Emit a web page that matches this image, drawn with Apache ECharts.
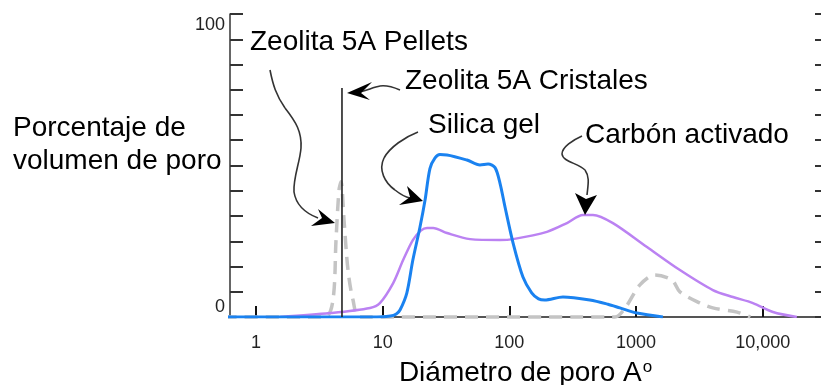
<!DOCTYPE html>
<html>
<head>
<meta charset="utf-8">
<script src="https://cdn.jsdelivr.net/npm/echarts@6.0.0/dist/echarts.min.js"></script>
<style>
  html, body { margin: 0; padding: 0; background: #fff; }
  #chart { width: 821px; height: 385px; }
</style>
</head>
<body>
<div id="chart"></div>
<script>
// pore diameter (Angstrom) vs % pore volume
const xTicks = [1, 10, 100, 1000, 10000];
const xTickLabels = ["1", "10", "100", "1000", "10,000"];

const silicaGel = [
  [0.6, 0], [9, 0], [11.5, 0.3], [12.8, 1], [13.7, 2.3], [15.5, 7.9], [17.3, 18.8],
  [19.7, 29.7], [21.6, 38.6], [23.6, 49], [25.9, 52.5], [28.3, 53.6], [32.2, 53.5],
  [46.3, 51.8], [58.6, 50.2], [67.9, 50.5], [77.1, 49.3], [84.3, 44.2], [92.4, 36.3],
  [107, 24.4], [128, 13.2], [150, 8], [170, 6], [190, 5.6], [265, 6.6], [432, 5.6],
  [600, 4.2], [746, 3.0], [1016, 1.3], [1630, 0]
];

const carbonActivado = [
  [1.55, 0], [3.84, 1.3], [7.94, 3.0], [9.5, 4.6], [12.1, 11.2], [14.5, 18.8],
  [17.3, 25.4], [20, 28.5], [22.4, 29.4], [25, 29.4], [32.2, 27.7], [48.9, 25.7],
  [84.3, 25.4], [107, 25.7], [198, 28.1], [285, 31.0], [381, 33.7], [457, 33.7],
  [657, 31.0], [1220, 23.1], [2220, 15.5], [4040, 8.9], [5820, 6.6], [8380, 4.6],
  [12050, 1.65], [18600, 0]
];

const zeolitaPellets = [
  [0.38, 0], [3.5, 0], [4.05, 5.6], [4.28, 25.4], [4.52, 41.9], [4.69, 44.6],
  [4.95, 32.0], [5.32, 15.5], [5.83, 5.6], [6.62, 0], [681, 0], [830, 3.3],
  [1073, 10.6], [1413, 13.9], [1923, 12.2], [2220, 8.3], [3200, 4.6], [4040, 3.0],
  [6270, 1.6], [8000, 0]
];

const zeolitaCristales = [[4.77, 0], [4.77, 75.6]];

const FONT = "'Liberation Sans', Arial, sans-serif";
const chart = echarts.init(document.getElementById("chart"));

function arrowHead(points) {
  return { type: "polygon", shape: { points: points }, style: { fill: "#000" }, z: 100 };
}
// a curved arrow shaft: start point followed by [c1x,c1y,c2x,c2y,x,y] segments
function shaft(start, segs) {
  let x = start[0], y = start[1];
  return segs.map(s => {
    const el = {
      type: "bezierCurve", z: 100,
      shape: { x1: x, y1: y, cpx1: s[0], cpy1: s[1], cpx2: s[2], cpy2: s[3], x2: s[4], y2: s[5] },
      style: { stroke: "#333", lineWidth: 1.6, fill: null }
    };
    x = s[4]; y = s[5];
    return el;
  });
}
function label(text, x, y) {
  return {
    type: "text", x: x, y: y, z: 100,
    style: { text: text, font: "28px " + FONT, fill: "#000", verticalAlign: "middle" }
  };
}

const option = {
  animation: false,
  grid: { left: 230, right: 0, top: 14, bottom: 68, outerBoundsMode: "none", containLabel: false },
  xAxis: [
    {
      type: "log",
      min: 0.623,
      max: 28860,
      axisLine: { lineStyle: { color: "#333", width: 1.5 } },
      axisTick: { inside: true, length: 11, customValues: xTicks, lineStyle: { color: "#111", width: 2 } },
      axisLabel: {
        customValues: xTicks,
        margin: 17,
        fontSize: 18,
        fontFamily: FONT,
        color: "#222",
        formatter: function (v) {
          const i = xTicks.findIndex(t => Math.abs(Math.log10(t) - Math.log10(v)) < 1e-6);
          return i >= 0 ? xTickLabels[i] : "";
        }
      },
      splitLine: { show: false },
      name: "Diámetro de poro A{sup|o}",
      nameLocation: "middle",
      nameGap: 42,
      nameTextStyle: {
        fontSize: 28, fontFamily: FONT, color: "#000",
        rich: { sup: { fontSize: 17, fontFamily: FONT, color: "#000", verticalAlign: "top", padding: [0, 0, 12, 1] } }
      }
    },
    {
      type: "log",
      position: "top",
      min: 0.623,
      max: 28860,
      axisLine: { show: true, lineStyle: { color: "#555", width: 2 } },
      axisTick: { show: false },
      axisLabel: { show: false },
      splitLine: { show: false }
    }
  ],
  yAxis: [
    {
      type: "value",
      min: 0,
      max: 100,
      interval: 100 / 12,
      axisLine: { show: true, lineStyle: { color: "#333", width: 1.5 } },
      axisTick: { show: true, inside: true, length: 13, lineStyle: { color: "#333", width: 2 } },
      axisLabel: {
        margin: 5,
        fontSize: 18,
        fontFamily: FONT,
        color: "#222",
        formatter: function (v) {
          if (Math.abs(v) < 1e-6) return "{b|0}";
          if (Math.abs(v - 100) < 1e-6) return "{t|100}";
          return "";
        },
        rich: {
          b: { fontSize: 18, fontFamily: FONT, color: "#222", padding: [0, 0, 20, 0] },
          t: { fontSize: 18, fontFamily: FONT, color: "#222", padding: [22, 0, 0, 0] }
        }
      },
      splitLine: { show: false }
    },
    {
      type: "value",
      position: "right",
      min: 0,
      max: 100,
      interval: 100 / 12,
      axisLine: { show: false },
      axisTick: { show: true, inside: true, length: 6, lineStyle: { color: "#333", width: 2 } },
      axisLabel: { show: false },
      splitLine: { show: false }
    }
  ],
  series: [
    {
      name: "Zeolita 5A Pellets",
      type: "line",
      data: zeolitaPellets,
      smooth: 0.3,
      symbol: "none",
      clip: false,
      lineStyle: { color: "#c4c4c4", width: 3.5, type: [13, 8] },
      z: 2
    },
    {
      name: "Carbón activado",
      type: "line",
      data: carbonActivado,
      smooth: 0.3,
      symbol: "none",
      lineStyle: { color: "#bb82f2", width: 2.5 },
      z: 3
    },
    {
      name: "Silica gel",
      type: "line",
      data: silicaGel,
      smooth: 0.3,
      symbol: "none",
      lineStyle: { color: "#1a82f0", width: 3 },
      z: 4
    },
    {
      name: "Zeolita 5A Cristales",
      type: "line",
      data: zeolitaCristales,
      symbol: "none",
      lineStyle: { color: "#222", width: 1.6 },
      z: 5
    }
  ],
  graphic: [
    label("Zeolita 5A Pellets", 250, 42),
    label("Zeolita 5A Cristales", 405, 81),
    label("Silica gel", 428, 125),
    label("Carbón activado", 585, 135),
    {
      type: "text", x: 13, y: 145, z: 100,
      style: { text: "Porcentaje de\nvolumen de poro", font: "28px " + FONT, lineHeight: 33, fill: "#000", align: "left", verticalAlign: "middle" }
    }
  ]
    .concat(shaft([270, 70], [[273, 85, 276, 95, 285, 108], [296, 122, 302, 132, 301, 148], [300, 162, 293, 178, 294, 192], [296, 205, 305, 213, 318, 218]]))
    .concat([arrowHead([[335, 223], [318, 209], [322, 218], [311, 226]])])
    .concat(shaft([400, 90], [[393, 87, 387, 85, 380, 86], [374, 87, 368, 90, 360, 92]]))
    .concat([arrowHead([[347, 93], [372, 82], [361, 93], [370, 100]])])
    .concat(shaft([418, 132], [[405, 137, 390, 147, 384, 158], [378, 170, 385, 183, 395, 190], [400, 194, 405, 197, 410, 198]]))
    .concat([arrowHead([[423, 201], [407, 186], [410, 197], [399, 205]])])
    .concat(shaft([582, 136], [[573, 140, 562, 147, 562, 154], [563, 162, 578, 163, 585, 170], [590, 177, 588, 185, 587, 195]]))
    .concat([arrowHead([[585, 215], [575, 193], [586, 199], [597, 195]])])
};

chart.setOption(option);
</script>
</body>
</html>
